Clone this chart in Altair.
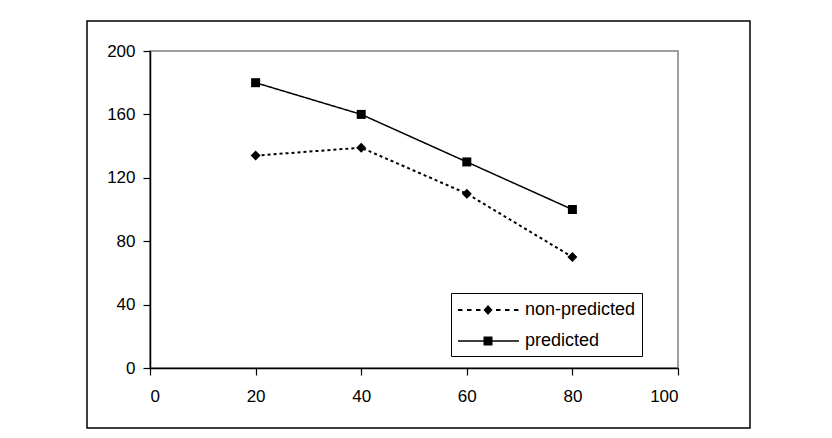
import altair as alt
import pandas as pd

x_vals = [20, 40, 60, 80]
non_predicted = [134, 139, 110, 70]
predicted = [180, 160, 130, 100]
series_names = ["non-predicted", "predicted"]
x_ticks = [0, 20, 40, 60, 80, 100]
y_ticks = [0, 40, 80, 120, 160, 200]

rows = []
for xv, a, b in zip(x_vals, non_predicted, predicted):
    rows.append({"x": xv, "y": a, "series": series_names[0]})
    rows.append({"x": xv, "y": b, "series": series_names[1]})
df = pd.DataFrame(rows)

FONT = "Liberation Sans"
FS_AXIS = 17
FS_LEG = 18
W, H = 528, 317

# Legend symbols: drawn in px, converted to vega's unit space (scale = sqrt(size)/2 = 10 px)
SYM_SIZE = 400
U = 10.0


def px(v):
    return (v - U) / U


def bar(a, b, half_h_px):
    h = half_h_px / U
    x1, x2 = px(a), px(b)
    return f"M{x1:.3f},{-h:.3f}L{x2:.3f},{-h:.3f}L{x2:.3f},{h:.3f}L{x1:.3f},{h:.3f}Z"


def dashed_diamond():
    parts = [bar(a, a + 4.5, 1.0) for a in (0, 9, 18, 38, 47, 56)]
    c = px(30)
    h, w = 0.5, 0.45
    parts.append(f"M{c:.3f},{-h}L{c + w:.3f},0L{c:.3f},{h}L{c - w:.3f},0Z")
    return "".join(parts)


def solid_square():
    c = px(30)
    s = 0.45
    return (bar(0, 61, 0.65) +
            f"M{c - s:.3f},{-s}L{c + s:.3f},{-s}L{c + s:.3f},{s}L{c - s:.3f},{s}Z")


xaxis = alt.Axis(values=x_ticks, title=None, grid=False, domainColor="black", domainWidth=1.5,
                 tickColor="black", tickSize=7, tickWidth=1.2, labelFont=FONT, labelFontSize=FS_AXIS,
                 labelColor="black", labelPadding=13)
yaxis = alt.Axis(values=y_ticks, title=None, grid=False, domainColor="black", domainWidth=1.5,
                 tickColor="black", tickSize=7, tickWidth=1.2, labelFont=FONT, labelFontSize=FS_AXIS,
                 labelColor="black", labelPadding=8)

base = alt.Chart(df).encode(
    x=alt.X("x:Q", scale=alt.Scale(domain=[0, 100], nice=False), axis=xaxis),
    y=alt.Y("y:Q", scale=alt.Scale(domain=[0, 200], nice=False), axis=yaxis),
)

lines = base.mark_line(color="black").encode(
    detail="series:N",
    strokeDash=alt.StrokeDash("series:N", scale=alt.Scale(domain=series_names, range=[[3, 3], [1, 0]]), legend=None),
    strokeWidth=alt.StrokeWidth("series:N", scale=alt.Scale(domain=series_names, range=[2, 1.5]), legend=None),
)

points = base.mark_point(filled=True, color="black", opacity=1).encode(
    shape=alt.Shape("series:N", scale=alt.Scale(domain=series_names, range=["diamond", "square"]), legend=None),
    size=alt.Size("series:N", scale=alt.Scale(domain=series_names, range=[100, 81]), legend=None),
)

legend_layer = base.mark_point(filled=True, color="black", size=1, opacity=0).encode(
    shape=alt.Shape(
        "series:N",
        scale=alt.Scale(domain=series_names, range=[dashed_diamond(), solid_square()]),
        legend=alt.Legend(
            title=None,
            orient="none",
            legendX=301,
            legendY=242,
            strokeColor="black",
            padding=6,
            symbolSize=SYM_SIZE,
            symbolOpacity=1,
            symbolFillColor="black",
            labelFont=FONT,
            labelFontSize=FS_LEG,
            labelColor="black",
            rowPadding=11,
            labelOffset=46,
        ),
    ),
)

frame = alt.Chart(pd.DataFrame({"k": [0]})).mark_rect(
    fill=None, stroke="black", strokeWidth=1.5
).encode(
    x=alt.value(-63), x2=alt.value(600), y=alt.value(-30), y2=alt.value(377)
)

chart = alt.layer(frame, lines, points, legend_layer).resolve_scale(
    shape="independent"
).properties(
    width=W, height=H,
    autosize=alt.AutoSizeParams(type="none"),
    padding={"left": 142, "top": 43, "right": 120, "bottom": 62},
).configure_view(
    stroke="#808080", strokeWidth=1.5
)

chart.save("out.html", embed_options={"renderer": "svg", "actions": False})
